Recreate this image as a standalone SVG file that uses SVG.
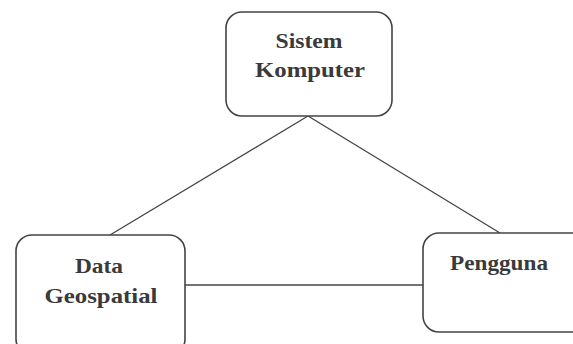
<svg xmlns="http://www.w3.org/2000/svg" width="573" height="344" viewBox="0 0 573 344">
  <style>
    .box { fill: #ffffff; stroke: #444444; stroke-width: 1.6; }
    .edge { stroke: #444444; stroke-width: 1.3; fill: none; }
    .lbl { font-family: "Liberation Serif", "DejaVu Serif", serif; font-weight: bold; font-size: 21px; fill: #3a3a3a; text-anchor: middle; }
  </style>
  <rect width="573" height="344" fill="#ffffff"/>
  <g id="connectors">
    <line class="edge" x1="308" y1="116" x2="110" y2="235"/>
    <line class="edge" x1="308" y1="116" x2="500" y2="233"/>
    <line class="edge" x1="185" y1="285" x2="423" y2="285"/>
  </g>
  <g id="sistem-komputer">
    <rect class="box" x="226" y="12" width="166" height="104" rx="16"/>
    <text class="lbl" x="309" y="48" textLength="67" lengthAdjust="spacingAndGlyphs">Sistem</text>
    <text class="lbl" x="310" y="77" textLength="110" lengthAdjust="spacingAndGlyphs">Komputer</text>
  </g>
  <g id="data-geospatial">
    <rect class="box" x="16" y="235" width="169" height="120" rx="16"/>
    <text class="lbl" x="99" y="273" textLength="48" lengthAdjust="spacingAndGlyphs">Data</text>
    <text class="lbl" x="101" y="303" textLength="113" lengthAdjust="spacingAndGlyphs">Geospatial</text>
  </g>
  <g id="pengguna">
    <rect class="box" x="423" y="233" width="170" height="99" rx="16"/>
    <text class="lbl" x="499" y="270" textLength="98" lengthAdjust="spacingAndGlyphs">Pengguna</text>
  </g>
</svg>
